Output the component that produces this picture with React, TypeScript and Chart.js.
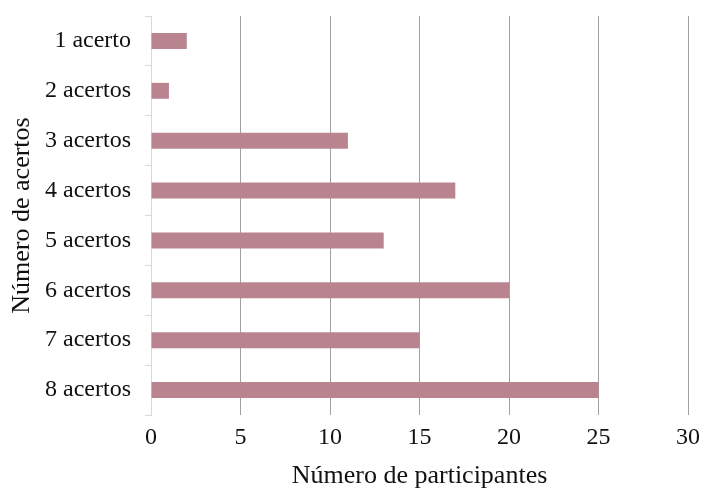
import React, { useEffect, useRef } from "react";
import { Chart, registerables } from "chart.js";

Chart.register(...registerables);

const categories = [
  "1 acerto",
  "2 acertos",
  "3 acertos",
  "4 acertos",
  "5 acertos",
  "6 acertos",
  "7 acertos",
  "8 acertos",
];
const participantes = [2, 1, 11, 17, 13, 20, 15, 25];

const xTitle = "Número de participantes";
const yTitle = "Número de acertos";
const xMin = 0;
const xMax = 30;
const xStep = 5;

const SERIF = "'Liberation Serif', 'Times New Roman', serif";

export default function App() {
  const canvasRef = useRef<HTMLCanvasElement | null>(null);

  useEffect(() => {
    const canvas = canvasRef.current;
    if (!canvas) return;
    Chart.defaults.font.family = SERIF;
    const chart = new Chart(canvas, {
      type: "bar",
      data: {
        labels: categories,
        datasets: [
          {
            data: participantes,
            backgroundColor: "#b9848f",
            borderWidth: 0,
            categoryPercentage: 1,
            barPercentage: 0.32,
          },
        ],
      },
      options: {
        indexAxis: "y",
        responsive: false,
        animation: false,
        layout: { padding: { top: 16, right: 14, left: 0, bottom: 0 } },
        plugins: {
          legend: { display: false },
          tooltip: { enabled: false },
        },
        scales: {
          x: {
            min: xMin,
            max: xMax,
            ticks: {
              stepSize: xStep,
              color: "#111",
              padding: 8,
              font: { size: 24, family: SERIF },
            },
            grid: {
              drawTicks: false,
              color: (ctx: any) =>
                ctx.tick && ctx.tick.value === 0 ? "rgba(0,0,0,0)" : "#a0a0a0",
            },
            border: { display: false },
            title: {
              display: true,
              text: xTitle,
              color: "#111",
              padding: { top: 2, bottom: 0 },
              font: { size: 26, family: SERIF },
            },
            afterFit: (scale: any) => {
              scale.height = 77;
              scale.paddingLeft = 0;
              scale.paddingRight = 0;
            },
          },
          y: {
            ticks: {
              color: "#111",
              padding: 14,
              font: { size: 24, family: SERIF },
            },
            grid: {
              drawOnChartArea: false,
              drawTicks: true,
              tickLength: 6,
              color: "#d9d9d9",
            },
            border: { display: true, color: "#d9d9d9" },
            title: {
              display: true,
              text: yTitle,
              color: "#111",
              padding: { top: 7, bottom: 0 },
              font: { size: 26, family: SERIF },
            },
            afterFit: (scale: any) => {
              scale.width = 151;
              scale.paddingTop = 0;
              scale.paddingBottom = 0;
            },
          },
        },
      },
    });
    return () => chart.destroy();
  }, []);

  return (
    <div style={{ position: "fixed", left: 0, top: 0, width: 702, height: 492, background: "#fff" }}>
      <canvas ref={canvasRef} width={702} height={492} />
    </div>
  );
}
